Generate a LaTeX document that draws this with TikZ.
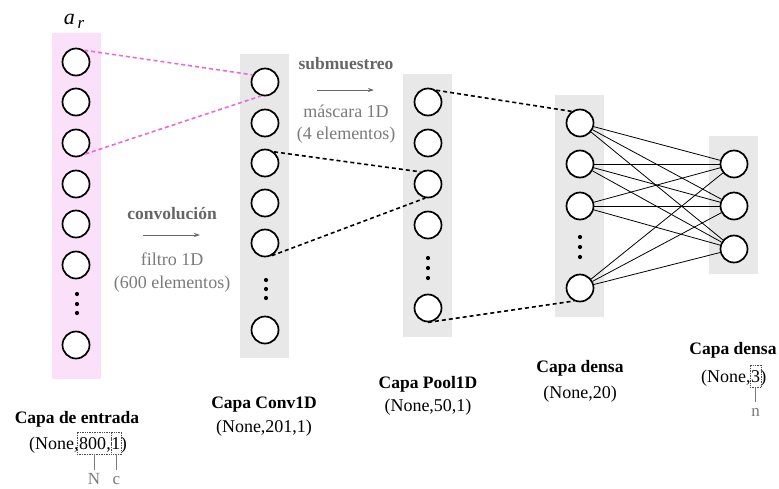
\documentclass[tikz,border=0pt]{standalone}
\usepackage{fontspec}
\setmainfont{Liberation Serif}
\usetikzlibrary{arrows.meta,fit,calc}
\definecolor{pinkbg}{HTML}{FAE0F8}
\definecolor{graybg}{HTML}{E8E8E8}
\definecolor{pinkline}{HTML}{E868E0}
\definecolor{txtgray}{HTML}{7A7A7A}
\definecolor{boldgray}{HTML}{666666}
\tikzset{
  neuron/.style={circle,draw=black,line width=1.7pt,fill=white,minimum size=27pt,inner sep=0pt},
  vdot/.style={circle,fill=black,inner sep=0pt,minimum size=4.2pt},
  pinkdash/.style={draw=pinkline,line width=1.6pt,dash pattern=on 4pt off 3pt},
  blackdash/.style={draw=black,line width=1.6pt,dash pattern=on 4pt off 3pt},
  dense/.style={draw=black,line width=0.8pt},
  ttl/.style={font=\fontsize{17.5}{20}\selectfont\bfseries,anchor=base,inner sep=0pt},
  shp/.style={font=\fontsize{18}{20}\selectfont,anchor=base,inner sep=0pt},
  piece/.style={font=\fontsize{18}{20}\selectfont,anchor=base west,inner sep=0pt},
  opbold/.style={font=\fontsize{17.5}{20}\selectfont\bfseries,text=boldgray,anchor=base,inner sep=0pt},
  optxt/.style={font=\fontsize{18}{20}\selectfont,text=txtgray,anchor=base,inner sep=0pt},
  opar/.style={draw=boldgray,line width=0.8pt,-{Stealth[length=6pt,width=4pt]}},
  dimbox/.style={draw=black!70,densely dotted,line width=0.7pt,inner sep=0pt},
  dimline/.style={draw=txtgray,line width=0.8pt},
  dimlbl/.style={font=\fontsize{17}{20}\selectfont,text=txtgray,anchor=base,inner sep=0pt}
}
\begin{document}
\begin{tikzpicture}[x=1pt,y=-1pt]
\useasboundingbox (0,0) rectangle (779,488);
% backgrounds
\fill[pinkbg] (52,33) rectangle (101,379);
\fill[graybg] (240,54) rectangle (289,358);
\fill[graybg] (403,74) rectangle (452,337);
\fill[graybg] (555,95) rectangle (604,317);
\fill[graybg] (709,136) rectangle (758,274);
\node[font=\fontsize{22}{24}\selectfont\itshape,anchor=base,inner sep=0pt] (ar) at (74,24) {a\raisebox{-4pt}{\fontsize{17}{17}\selectfont\,r}};
% input neurons
\foreach \i/\y in {1/62,2/102,3/143,4/184,5/224,6/265,7/345}
  \node[neuron] (i\i) at (76,\y) {};
\foreach \i/\y in {1/294,2/304,3/313} \node[vdot] (id\i) at (77,\y) {};
% conv neurons
\foreach \i/\y in {1/82,2/123,3/163,4/203,5/243,6/330}
  \node[neuron] (c\i) at (265,\y) {};
\foreach \i/\y in {1/280,2/289,3/298} \node[vdot] (cd\i) at (266,\y) {};
% pool neurons
\foreach \i/\y in {1/102,2/143,3/184,4/225,5/308}
  \node[neuron] (p\i) at (428,\y) {};
\foreach \i/\y in {1/258,2/268,3/278} \node[vdot] (pd\i) at (428,\y) {};
% dense 20
\foreach \i/\y in {1/123,2/164,3/206,4/288}
  \node[neuron] (d\i) at (580,\y) {};
\foreach \i/\y in {1/237,2/247,3/257} \node[vdot] (dd\i) at (580,\y) {};
% dense 3
\foreach \i/\y in {1/164,2/206,3/249}
  \node[neuron] (o\i) at (734,\y) {};
% dense connections
\foreach \a in {1,2,3,4}
  \foreach \b in {1,2,3}
    \draw[dense] (d\a) -- (o\b);
% dashed connections
\draw[pinkdash] (i1.55) -- (c1.150);
\draw[pinkdash] (i3.-50) -- (c1.-105);
\draw[blackdash] (c3.51) -- (p3.122);
\draw[blackdash] (c5.-62) -- (p3.-101);
\draw[blackdash] (p1.55) -- (d1.126);
\draw[blackdash] (p5.-90) -- (d4.-115);
% operations
\node[opbold] (conv) at (172,219) {convolución};
\coordinate (ca1) at (143,235);
\coordinate (ca2) at (200,235);
\draw[opar] (ca1) -- (ca2);
\node[optxt] (f1) at (172,265) {filtro 1D};
\node[optxt] (f2) at (172,288) {(600 elementos)};
\node[opbold] (sub) at (346,69) {submuestreo};
\coordinate (sa1) at (317,90);
\coordinate (sa2) at (374,90);
\draw[opar] (sa1) -- (sa2);
\node[optxt] (m1) at (346,117) {máscara 1D};
\node[optxt] (m2) at (346,139) {(4 elementos)};
% labels
\node[ttl] (t1) at (77,423) {Capa de entrada};
\node[piece] (e1) at (29,449) {(None,};
\node[piece] (e2) at (e1.base east) {800};
\node[piece] (e3) at (e2.base east) {,};
\node[piece] (e4) at (e3.base east) {1};
\node[piece] (e5) at (e4.base east) {)};
\node[dimbox,fit={($(e2.base west)+(-2,5)$) ($(e3.base east)+(0,-17)$)}] (b1) {};
\node[dimbox,fit={($(e4.base west)+(0,5)$) ($(e4.base east)+(1,-17)$)}] (b2) {};
\node[dimlbl] (N) at (b1.south |- 0,484) {N};
\node[dimlbl] (cc) at (b2.south |- 0,484) {c};
\draw[dimline] (b1.south) -- ($(b1.south)+(0,16)$);
\draw[dimline] (b2.south) -- ($(b2.south)+(0,16)$);
\node[ttl] (t2) at (264,408) {Capa Conv1D};
\node[shp] (s2) at (264,432) {(None,201,1)};
\node[ttl] (t3) at (428,388) {Capa Pool1D};
\node[shp] (s3) at (428,411) {(None,50,1)};
\node[ttl] (t4) at (580,372) {Capa densa};
\node[shp] (s4) at (580,398) {(None,20)};
\node[ttl] (t5) at (733,354) {Capa densa};
\node[piece] (r1) at (701,382) {(None,};
\node[piece] (r2) at (r1.base east) {3};
\node[piece] (r3) at (r2.base east) {)};
\node[dimbox,fit={($(r2.base west)+(-1,5)$) ($(r2.base east)+(1,-17)$)}] (b3) {};
\node[dimlbl] (nn) at (b3.south |- 0,416) {n};
\draw[dimline] (b3.south) -- ($(b3.south)+(0,15)$);
\end{tikzpicture}
\end{document}
